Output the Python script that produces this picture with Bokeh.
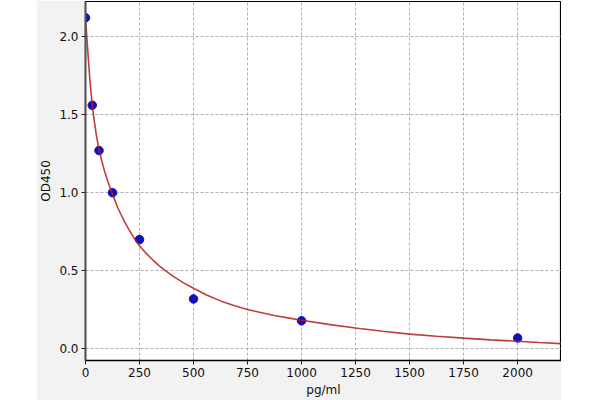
from bokeh.plotting import figure
from bokeh.models import FixedTicker, PrintfTickFormatter, Range1d, Spacer
from bokeh.layouts import row
from bokeh.embed import file_html
from bokeh.resources import INLINE

# Standard points (concentration pg/ml, OD450)
conc = [0, 31.25, 62.5, 125, 250, 500, 1000, 2000]
od = [2.12, 1.56, 1.27, 1.00, 0.70, 0.32, 0.18, 0.07]

# Fitted curve
curve_x = [0, 4, 8, 12, 16, 20, 25, 31.25, 40, 50, 62.5, 75, 90, 105, 125,
           150, 175, 200, 228, 250, 280, 312, 340, 374, 410, 450, 500, 560,
           628, 690, 750, 810, 874, 937, 1000, 1125, 1250, 1375, 1500, 1625,
           1750, 1875, 2000, 2100, 2200]
curve_y = [2.10, 2.04, 1.96, 1.88, 1.80, 1.73, 1.65, 1.56, 1.465, 1.37, 1.275,
           1.205, 1.13, 1.065, 0.99, 0.902, 0.83, 0.767, 0.703, 0.66, 0.613,
           0.569, 0.533, 0.496, 0.461, 0.426, 0.388, 0.345, 0.306, 0.277,
           0.253, 0.233, 0.214, 0.199, 0.184, 0.157, 0.134, 0.113, 0.095,
           0.081, 0.069, 0.058, 0.049, 0.041, 0.034]

x_ticks = [0, 250, 500, 750, 1000, 1250, 1500, 1750, 2000]
y_ticks = [0.0, 0.5, 1.0, 1.5, 2.0]

FONT = "DejaVu Sans"

p = figure(width=525, height=400, output_backend="svg", toolbar_location=None,
           x_range=Range1d(0, 2203), y_range=Range1d(-0.074, 2.224),
           min_border_left=48, min_border_right=0, min_border_top=1,
           min_border_bottom=40, border_fill_color="#f2f2f2",
           background_fill_color="white", outline_line_color="black",
           outline_line_width=1.2)

p.xaxis.axis_label = "pg/ml"
p.yaxis.axis_label = "OD450"
for ax in (p.xaxis[0], p.yaxis[0]):
    ax.axis_label_text_font = FONT
    ax.axis_label_text_font_size = "12px"
    ax.axis_label_text_font_style = "normal"
    ax.axis_label_text_color = "#111111"
    ax.axis_label_standoff = 3
    ax.major_label_text_font = FONT
    ax.major_label_text_font_size = "12px"
    ax.major_label_text_color = "#111111"
    ax.major_label_standoff = 3
    ax.major_tick_in = 0
    ax.major_tick_out = 4
    ax.minor_tick_in = 0
    ax.minor_tick_out = 0
    ax.major_tick_line_color = "#222222"

p.xaxis.ticker = FixedTicker(ticks=x_ticks)
p.yaxis.ticker = FixedTicker(ticks=y_ticks)
p.yaxis.formatter = PrintfTickFormatter(format="%.1f")
p.yaxis.axis_line_color = "#555555"
p.yaxis.axis_line_width = 2
p.xaxis.axis_line_color = "black"
p.xaxis.axis_line_width = 1.3

p.xgrid.ticker = FixedTicker(ticks=x_ticks)
p.ygrid.ticker = FixedTicker(ticks=y_ticks)
p.grid.grid_line_color = "#b0b0b0"
p.grid.grid_line_dash = "3 2"
p.grid.grid_line_width = 1

p.scatter(conc, od, size=8.5, fill_color="#1010bb", line_color="#1010bb")
p.line(curve_x, curve_y, line_color="#b01c1c", line_width=1.6, line_alpha=0.85)

layout = row(Spacer(width=36, height=400), p)

open("out.html", "w").write(file_html(layout, INLINE))
